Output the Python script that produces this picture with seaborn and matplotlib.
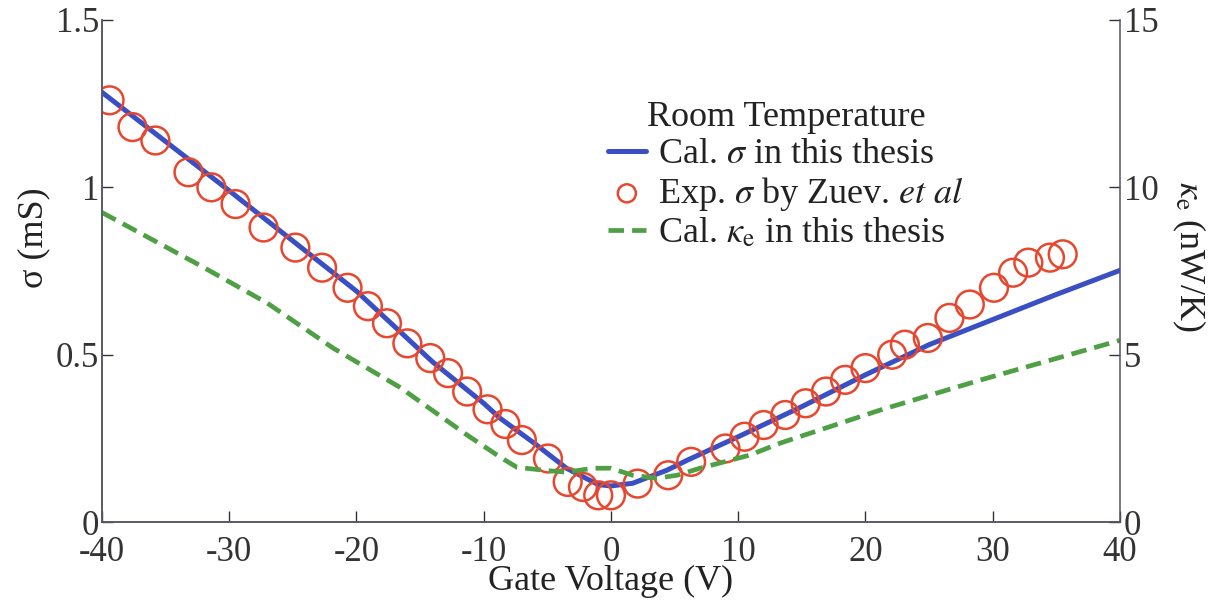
import matplotlib
matplotlib.use('Agg')
import matplotlib.pyplot as plt
import seaborn as sns
import pandas as pd

gate_exp = [-39.4, -37.6, -35.8, -33.2, -31.4, -29.5, -27.3, -24.8, -22.7, -20.7,
            -19.1, -17.6, -16.0, -14.2, -12.8, -11.3, -9.7, -8.3, -7.0, -4.95,
            -3.4, -2.2, -1.0, 0.0, 2.1, 4.5, 6.3, 9.0, 10.5, 12.0,
            13.7, 15.3, 16.9, 18.4, 20.0, 22.1, 23.1, 24.9, 26.6, 28.2,
            30.1, 31.6, 32.8, 34.5, 35.5]
sigma_exp = [1.26, 1.18, 1.14, 1.045, 1.0, 0.95, 0.88, 0.82, 0.76, 0.70,
             0.645, 0.594, 0.534, 0.49, 0.445, 0.39, 0.337, 0.293, 0.245, 0.19,
             0.12, 0.105, 0.08, 0.08, 0.115, 0.14, 0.18, 0.22, 0.255, 0.29,
             0.32, 0.355, 0.39, 0.425, 0.46, 0.50, 0.53, 0.55, 0.61, 0.65,
             0.70, 0.745, 0.775, 0.79, 0.80]

# calculated conductance (solid blue)
gate_cal = [-40, -30, -20, -14, -10, -8.7, -6, -3.5, -1, 0, 1.7, 4.4, 6,
            10, 15, 20, 25, 30, 35, 40]
sigma_cal = [1.284, 0.99, 0.69, 0.478, 0.355, 0.31, 0.235, 0.161, 0.112, 0.108,
             0.116, 0.155, 0.185, 0.255, 0.345, 0.44, 0.53, 0.605, 0.68, 0.752]

# calculated electronic thermal conductance (dashed green, right axis)
gate_kappa = [-40, -32.3, -27, -21.8, -16.6, -11.3, -8.7, -7.4, -5.3, -3.5,
              -1.4, 0, 1.7, 3.6, 5.2, 7, 10.9, 13.3, 21.1, 29, 40]
kappa_cal = [9.25, 7.67, 6.54, 5.19, 4.03, 2.6, 1.94, 1.64, 1.55, 1.49,
             1.61, 1.61, 1.40, 1.31, 1.40, 1.61, 2.0, 2.36, 3.34, 4.24, 5.43]

x_ticks = [-40, -30, -20, -10, 0, 10, 20, 30, 40]
left_ticks = [0, 0.5, 1, 1.5]
left_labels = ['0', '0.5', '1', '1.5']
right_ticks = [0, 5, 10, 15]

blue = '#3b4fc4'
red = '#e8472e'
green = '#4f9f45'
text_col = '#222222'

sns.set_style('ticks')
plt.rcParams['font.family'] = ['Liberation Serif', 'DejaVu Serif']
plt.rcParams['mathtext.fontset'] = 'stix'
plt.rcParams['text.color'] = text_col
plt.rcParams['axes.labelcolor'] = text_col
plt.rcParams['xtick.color'] = '#333333'
plt.rcParams['ytick.color'] = '#333333'

exp_df = pd.DataFrame({'V': gate_exp, 'sigma': sigma_exp})
cal_df = pd.DataFrame({'V': gate_cal, 'sigma': sigma_cal})
kap_df = pd.DataFrame({'V': gate_kappa, 'kappa': kappa_cal})

fig, ax = plt.subplots(figsize=(12.18, 6.05), dpi=100)
fig.subplots_adjust(left=0.0837, right=0.9195, bottom=0.137, top=0.967)
ax2 = ax.twinx()

sns.lineplot(data=cal_df, x='V', y='sigma', ax=ax, color=blue, lw=3.6,
             label=r'Cal. $\sigma$ in this thesis', legend=False)
sns.scatterplot(data=exp_df, x='V', y='sigma', ax=ax, s=400, marker='o',
                facecolor='none', edgecolor=red, linewidth=1.8, zorder=3,
                label=r'Exp. $\sigma$ by Zuev. $et\ al$', legend=False)
sns.lineplot(data=kap_df, x='V', y='kappa', ax=ax2, color=green, lw=3.4,
             linestyle=(0, (3.3, 1.7)),
             label=r'Cal. $\kappa_\mathrm{e}$ in this thesis', legend=False)

ax.set_xlim(-40, 40)
ax.set_ylim(0, 1.5)
ax2.set_ylim(0, 15)
ax.set_xticks(x_ticks)
ax.set_xticklabels([str(t) for t in x_ticks])
ax.set_yticks(left_ticks)
ax.set_yticklabels(left_labels)
ax2.set_yticks(right_ticks)

ax.tick_params(axis='x', direction='in', length=8, width=1, labelsize=25, pad=10)
ax.tick_params(axis='y', direction='in', length=8, width=1, labelsize=25, pad=2)
ax2.tick_params(axis='y', direction='in', length=8, width=1, labelsize=25, pad=3)

ax.set_xlabel('Gate Voltage (V)', fontsize=26, labelpad=-3)
ax.set_ylabel('σ (mS)', fontsize=26, labelpad=4)
ax.yaxis.label.set_y(0.566)
ax2.set_ylabel(r'$\kappa_\mathrm{e}$ (nW/K)', fontsize=26, rotation=270, labelpad=35)
ax2.yaxis.label.set_y(0.53)

for a in (ax, ax2):
    a.spines['top'].set_visible(False)
    for s in a.spines.values():
        s.set_color('#555566')
        s.set_linewidth(1.1)
ax.spines['right'].set_visible(False)

h1, l1 = ax.get_legend_handles_labels()
h2, l2 = ax2.get_legend_handles_labels()
leg = ax2.legend(h1 + h2, l1 + l2, title='Room Temperature', loc='upper left',
                 bbox_to_anchor=(0.497, 0.838), frameon=False, fontsize=26,
                 title_fontsize=26, handlelength=1.05, handletextpad=0.35,
                 labelspacing=0.1, markerscale=0.65, borderpad=0,
                 borderaxespad=0)

fig.savefig('out.png', dpi=100)
